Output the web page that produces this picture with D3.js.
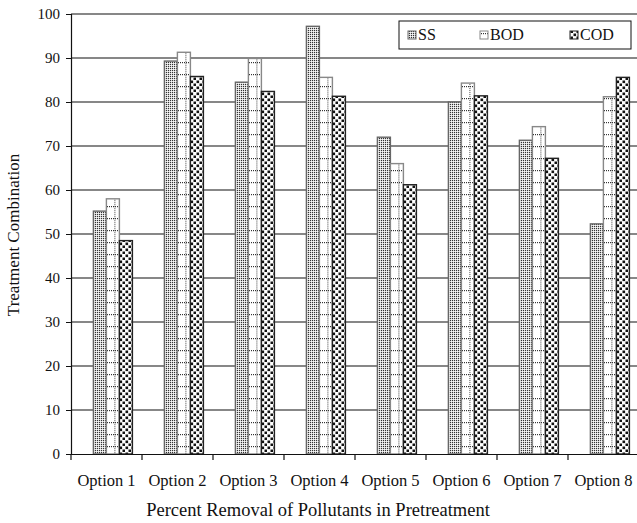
<!DOCTYPE html>
<html>
<head>
<meta charset="utf-8">
<script src="https://cdn.jsdelivr.net/npm/d3@7/dist/d3.min.js"></script>
<style>
  body { margin: 0; background: #fff; }
  text { font-family: "Liberation Serif", "Times New Roman", serif; fill: #111; }
</style>
</head>
<body>
<script>
// chart data
var categories = ["Option 1", "Option 2", "Option 3", "Option 4", "Option 5", "Option 6", "Option 7", "Option 8"];
var seriesNames = ["SS", "BOD", "COD"];
var ssValues  = [55.2, 89.3, 84.5, 97.2, 72.0, 80.0, 71.3, 52.3];
var bodValues = [58.0, 91.3, 89.9, 85.6, 66.0, 84.3, 74.4, 81.2];
var codValues = [48.5, 85.8, 82.4, 81.3, 61.2, 81.4, 67.2, 85.6];
var yTicks = [0, 10, 20, 30, 40, 50, 60, 70, 80, 90, 100];

var svgWidth = 637, svgHeight = 523;
var margin = {top: 14, left: 71};
var plotW = 568, plotH = 440;

var rows = categories.map(function(c, i) {
  return {cat: c, SS: ssValues[i], BOD: bodValues[i], COD: codValues[i]};
});

var svg = d3.select("body").append("svg")
  .attr("width", svgWidth)
  .attr("height", svgHeight);

// fill patterns
var defs = svg.append("defs");

var pSS = defs.append("pattern").attr("id", "pSS")
  .attr("patternUnits", "userSpaceOnUse").attr("width", 2).attr("height", 2);
pSS.append("rect").attr("width", 2).attr("height", 2).attr("fill", "#fff");
pSS.append("rect").attr("width", 1.2).attr("height", 1.2).attr("fill", "#333");

var pBOD = defs.append("pattern").attr("id", "pBOD")
  .attr("patternUnits", "userSpaceOnUse").attr("width", 2).attr("height", 12);
pBOD.append("rect").attr("width", 2).attr("height", 12).attr("fill", "#fff");
pBOD.append("rect").attr("width", 1).attr("height", 1.2).attr("fill", "#333");

var pCOD = defs.append("pattern").attr("id", "pCOD")
  .attr("patternUnits", "userSpaceOnUse").attr("width", 6).attr("height", 6);
pCOD.append("rect").attr("width", 6).attr("height", 6).attr("fill", "#fff");
pCOD.append("rect").attr("x", 0.5).attr("y", 0.5).attr("width", 2.6).attr("height", 2.6).attr("fill", "#111");
pCOD.append("rect").attr("x", 3.5).attr("y", 3.5).attr("width", 2.6).attr("height", 2.6).attr("fill", "#111");

var fills = {SS: "url(#pSS)", BOD: "url(#pBOD)", COD: "url(#pCOD)"};
var strokes = {SS: "#666", BOD: "#888", COD: "#222"};

// scales
var x0 = d3.scaleBand().domain(categories).range([0, plotW]).padding(0);
var x1 = d3.scaleBand().domain(seriesNames).range([0, x0.bandwidth()])
  .paddingInner(0).paddingOuter(1.23).align(0.7);
var y = d3.scaleLinear().domain([0, 100]).range([plotH, 0]);

var g = svg.append("g").attr("transform", "translate(" + margin.left + "," + margin.top + ")");

// horizontal grid lines
g.append("g").selectAll("line")
  .data(yTicks.filter(function(d) { return d > 0; }))
  .enter().append("line")
  .attr("x1", 0).attr("x2", plotW)
  .attr("y1", function(d) { return y(d); }).attr("y2", function(d) { return y(d); })
  .attr("stroke", "#111").attr("stroke-width", 1.2);

// bars
var groups = g.selectAll(".grp").data(rows).enter().append("g")
  .attr("class", "grp")
  .attr("transform", function(d) { return "translate(" + x0(d.cat) + ",0)"; });

groups.selectAll("rect")
  .data(function(d) { return seriesNames.map(function(k) { return {key: k, value: d[k]}; }); })
  .enter().append("rect")
  .attr("x", function(d) { return x1(d.key); })
  .attr("y", function(d) { return y(d.value); })
  .attr("width", x1.bandwidth())
  .attr("height", function(d) { return plotH - y(d.value); })
  .attr("fill", function(d) { return fills[d.key]; })
  .attr("stroke", function(d) { return strokes[d.key]; })
  .attr("stroke-width", 1.4);

// dotted centre line in BOD bars
groups.append("line")
  .attr("x1", x1("BOD") + x1.bandwidth() / 2 + 2)
  .attr("x2", x1("BOD") + x1.bandwidth() / 2 + 2)
  .attr("y1", function(d) { return y(d.BOD) + 1; })
  .attr("y2", plotH)
  .attr("stroke", "#444").attr("stroke-width", 1).attr("stroke-dasharray", "1,1");

// axes
var xAxis = d3.axisBottom(x0).tickSize(0).tickPadding(20);
var xg = g.append("g").attr("transform", "translate(0," + plotH + ")").call(xAxis);
xg.select(".domain").attr("stroke", "#111").attr("stroke-width", 1.2);
xg.selectAll("text").style("font-size", "16.5px").style("font-family", "Liberation Serif");
// tick marks between categories
xg.selectAll(".sep").data(categories).enter().append("line")
  .attr("class", "sep")
  .attr("x1", function(d) { return x0(d); }).attr("x2", function(d) { return x0(d); })
  .attr("y1", 0).attr("y2", 6)
  .attr("stroke", "#111").attr("stroke-width", 1.2);

var yAxis = d3.axisLeft(y).tickValues(yTicks).tickSize(5).tickPadding(6);
var yg = g.append("g").call(yAxis);
yg.select(".domain").attr("stroke", "#111").attr("stroke-width", 1.2);
yg.selectAll(".tick line").attr("stroke", "#111");
yg.selectAll("text").style("font-size", "15px").style("font-family", "Liberation Serif");

// axis titles
svg.append("text")
  .attr("x", 318).attr("y", 516)
  .attr("text-anchor", "middle")
  .style("font-size", "18.5px")
  .text("Percent Removal of Pollutants in Pretreatment");

svg.append("text")
  .attr("transform", "translate(19," + 235 + ") rotate(-90)")
  .attr("text-anchor", "middle")
  .style("font-size", "17px")
  .text("Treatment Combination");

// legend
var leg = svg.append("g").attr("transform", "translate(399,21)");
leg.append("rect").attr("width", 232).attr("height", 28)
  .attr("fill", "#fff").attr("stroke", "#111").attr("stroke-width", 1);
var legX = [9, 81, 171];
seriesNames.forEach(function(k, i) {
  leg.append("rect").attr("x", legX[i]).attr("y", 10).attr("width", 8).attr("height", 8)
    .attr("fill", fills[k]).attr("stroke", strokes[k]).attr("stroke-width", 1);
  leg.append("text").attr("x", legX[i] + 10).attr("y", 19)
    .style("font-size", "16px").text(k);
});
</script>
</body>
</html>
